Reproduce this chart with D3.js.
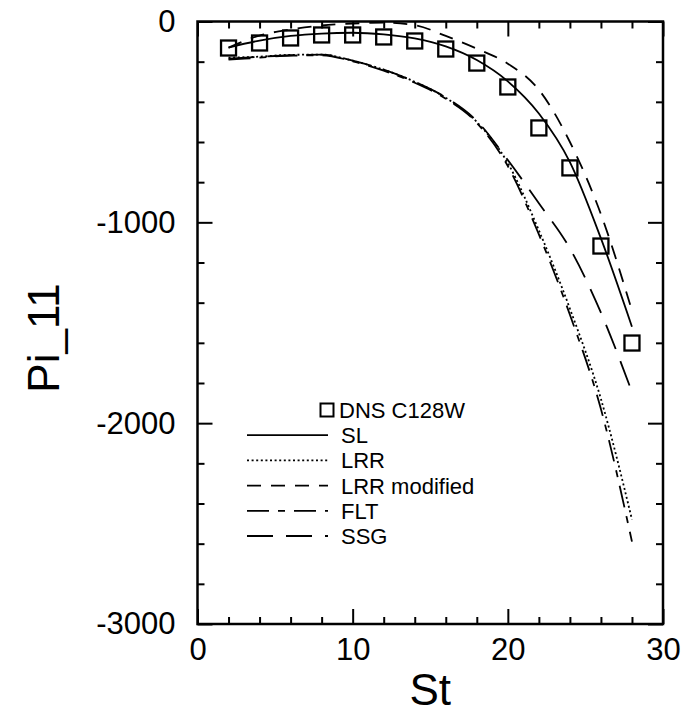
<!DOCTYPE html>
<html><head><meta charset="utf-8">
<script src="https://cdn.jsdelivr.net/npm/d3@7"></script>
<style>
html,body{margin:0;padding:0;background:#fff;}
svg{display:block;font-family:"Liberation Sans",Arial,Helvetica,sans-serif;}
</style></head>
<body>
<svg id="chart" width="684" height="715"></svg>
<script>
// ---- data ----
const stValues = [2,4,6,8,10,12,14,16,18,20,22,24,26,28];
const dnsValues = [-132,-107,-82,-67,-67,-77,-97,-137,-207,-326,-530,-729,-1118,-1601];
const slValues = [-130,-95,-72,-60,-56,-64,-84,-124,-192,-298,-458,-700,-1080,-1520];
const lrrValues = [-180,-175,-166,-165,-195,-240,-300,-380,-500,-705,-1040,-1430,-1880,-2480];
const lrrModValues = [-130,-70,-40,-20,-10,-6,-18,-72,-135,-210,-340,-600,-960,-1440];
const fltValues = [-190,-180,-170,-168,-198,-245,-305,-385,-505,-720,-1060,-1460,-1930,-2590];
const ssgValues = [-185,-176,-168,-165,-195,-240,-300,-378,-495,-690,-905,-1130,-1450,-1845];
const xMajorTicks = [0,10,20,30];
const xMinorTicks = [2,4,6,8,12,14,16,18,22,24,26,28];
const yMajorTicks = [0,-1000,-2000,-3000];
const yMinorTicks = [-200,-400,-600,-800,-1200,-1400,-1600,-1800,-2200,-2400,-2600,-2800];
const seriesNames = ["SL","LRR","LRR modified","FLT","SSG"];
const dnsName = "DNS C128W";

const series = [
  {name:seriesNames[0], values:slValues, dash:null},
  {name:seriesNames[1], values:lrrValues, dash:"2,2.6"},
  {name:seriesNames[2], values:lrrModValues, dash:"14,10"},
  {name:seriesNames[3], values:fltValues, dash:"22,9,7,9"},
  {name:seriesNames[4], values:ssgValues, dash:"26,13"}
];

const svg = d3.select("#chart");
const L = 197.5, R = 663, T = 21.5, B = 624;
const x = d3.scaleLinear().domain([0,30]).range([L,R]);
const y = d3.scaleLinear().domain([-3000,0]).range([B,T]);

function styleAxis(g){
  g.select(".domain").remove();
  g.selectAll(".tick line").attr("stroke","#000").attr("stroke-width",2);
  g.selectAll(".tick text").attr("fill","#000").style("font-size","31px")
   .style("font-family",'"Liberation Sans",Arial,Helvetica,sans-serif');
}
const fmt = d => String(d);
svg.append("g").attr("transform",`translate(0,${B})`)
  .call(d3.axisBottom(x).tickValues(xMajorTicks).tickSizeInner(-15).tickSizeOuter(0).tickPadding(14).tickFormat(fmt))
  .call(styleAxis);
svg.append("g").attr("transform",`translate(0,${B})`)
  .call(d3.axisBottom(x).tickValues(xMinorTicks).tickSizeInner(-7).tickSizeOuter(0).tickFormat(""))
  .call(styleAxis);
svg.append("g").attr("transform",`translate(0,${T})`)
  .call(d3.axisTop(x).tickValues(xMajorTicks).tickSizeInner(-15).tickSizeOuter(0).tickFormat(""))
  .call(styleAxis);
svg.append("g").attr("transform",`translate(0,${T})`)
  .call(d3.axisTop(x).tickValues(xMinorTicks).tickSizeInner(-7).tickSizeOuter(0).tickFormat(""))
  .call(styleAxis);
svg.append("g").attr("transform",`translate(${L},0)`)
  .call(d3.axisLeft(y).tickValues(yMajorTicks).tickSizeInner(-15).tickSizeOuter(0).tickPadding(22).tickFormat(fmt))
  .call(styleAxis);
svg.append("g").attr("transform",`translate(${L},0)`)
  .call(d3.axisLeft(y).tickValues(yMinorTicks).tickSizeInner(-7).tickSizeOuter(0).tickFormat(""))
  .call(styleAxis);
svg.append("g").attr("transform",`translate(${R},0)`)
  .call(d3.axisRight(y).tickValues(yMajorTicks).tickSizeInner(-15).tickSizeOuter(0).tickFormat(""))
  .call(styleAxis);
svg.append("g").attr("transform",`translate(${R},0)`)
  .call(d3.axisRight(y).tickValues(yMinorTicks).tickSizeInner(-7).tickSizeOuter(0).tickFormat(""))
  .call(styleAxis);

svg.append("rect").attr("x",L).attr("y",T).attr("width",R-L).attr("height",B-T)
  .attr("fill","none").attr("stroke","#000").attr("stroke-width",2.5);

const line = d3.line().x((d,i)=>x(stValues[i])).y(d=>y(d)).curve(d3.curveMonotoneX);
series.forEach(s=>{
  svg.append("path").datum(s.values).attr("d",line)
    .attr("fill","none").attr("stroke","#000").attr("stroke-width",1.8)
    .attr("stroke-dasharray",s.dash);
});

const sq = 15;
svg.append("g").selectAll("rect").data(dnsValues).join("rect")
  .attr("x",(d,i)=>x(stValues[i])-sq/2).attr("y",d=>y(d)-sq/2)
  .attr("width",sq).attr("height",sq)
  .attr("fill","none").attr("stroke","#000").attr("stroke-width",2.3);

const leg = svg.append("g");
const lx0 = 247, lx1 = 328, tx = 341, ly0 = 410, dy = 25.2;
leg.append("rect").attr("x",327-6.5).attr("y",ly0-6.5).attr("width",13).attr("height",13)
  .attr("fill","none").attr("stroke","#000").attr("stroke-width",2);
leg.append("text").attr("x",tx-2).attr("y",ly0+8).text(dnsName)
  .style("font-size","22px").attr("fill","#000");
series.forEach((s,i)=>{
  const yy = ly0 + dy*(i+1);
  leg.append("line").attr("x1",lx0).attr("x2",lx1).attr("y1",yy).attr("y2",yy)
    .attr("stroke","#000").attr("stroke-width",1.8).attr("stroke-dasharray",s.dash);
  leg.append("text").attr("x",tx).attr("y",yy+8).text(s.name)
    .style("font-size","22px").attr("fill","#000");
});

svg.append("text").attr("x",(L+R)/2).attr("y",705).attr("text-anchor","middle")
  .style("font-size","44px").attr("fill","#000").text("St");
svg.append("text").attr("transform","translate(59,338) rotate(-90)").attr("text-anchor","middle")
  .style("font-size","44px").attr("fill","#000").text("Pi_11");
</script>
</body></html>
